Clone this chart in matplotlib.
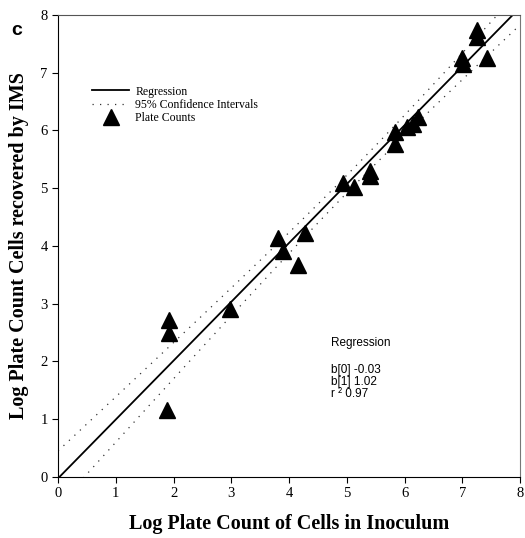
import numpy as np
import matplotlib.pyplot as plt

# plate counts (log units)
inoculum = [1.88, 1.92, 1.92, 2.98, 3.81, 3.90, 4.16, 4.28, 4.93, 5.13,
            5.40, 5.40, 5.84, 5.84, 6.04, 6.14, 6.24, 6.99, 7.02, 7.42,
            7.25, 7.25]
recovered = [1.15, 2.72, 2.49, 2.90, 4.13, 3.91, 3.66, 4.23, 5.09, 5.02,
             5.30, 5.21, 5.97, 5.77, 6.06, 6.12, 6.23, 7.25, 7.16, 7.25,
             7.74, 7.62]

# regression as printed on the chart
b0 = -0.03
b1 = 1.02
r2 = 0.97
t_crit = 2.08

serif = 'Liberation Serif'
sans = 'Liberation Sans'

x = np.array(inoculum)
y = np.array(recovered)
n = len(x)
resid = y - (b0 + b1 * x)
s = np.sqrt(np.sum(resid ** 2) / (n - 2))
sxx = np.sum((x - x.mean()) ** 2)

xs = np.linspace(0, 8, 200)
fit = b0 + b1 * xs
half = t_crit * s * np.sqrt(1 / n + (xs - x.mean()) ** 2 / sxx)

fig = plt.figure(figsize=(5.25, 5.38), dpi=100)
ax = fig.add_axes([0.1105, 0.114, 0.88, 0.858])

ax.plot(xs, fit, color='black', lw=1.3, label='Regression')
ax.plot(xs, fit + half, color='#333333', lw=0.9, ls=(0, (1, 5)),
        label='95% Confidence Intervals')
ax.plot(xs, fit - half, color='#333333', lw=0.9, ls=(0, (1, 5)))
ax.plot(x, y, ls='none', marker='^', ms=11, color='black', label='Plate Counts')

ax.set_xlim(0, 8)
ax.set_ylim(0, 8)
ax.set_xticks(range(9))
ax.set_yticks(range(9))
ax.tick_params(direction='out', length=4, width=0.8, labelsize=10.5)
for lab in ax.get_xticklabels() + ax.get_yticklabels():
    lab.set_fontfamily(serif)
for sp in ax.spines.values():
    sp.set_linewidth(0.8)
ax.spines['top'].set_color('#555555')
ax.spines['right'].set_color('#777777')

ax.set_xlabel('Log Plate Count of Cells in Inoculum', fontfamily=serif,
              fontweight='bold', fontsize=14.5, labelpad=10)
ax.set_ylabel('Log Plate Count Cells recovered by IMS', fontfamily=serif,
              fontweight='bold', fontsize=14.5, labelpad=8)

leg = ax.legend(loc='upper left', bbox_to_anchor=(0.06, 0.86), frameon=False,
                prop={'family': serif, 'size': 8.5}, handlelength=3.2,
                handletextpad=0.5, labelspacing=0.1, borderpad=0)

ax.text(0.59, 0.29, 'Regression', transform=ax.transAxes, fontfamily=sans,
        fontsize=8.5, va='center')
ax.text(0.59, 0.245, 'b[0] -0.03\nb[1] %.2f\nr ² %.2f' % (b1, r2),
        transform=ax.transAxes, fontfamily=sans, fontsize=8.5, va='top',
        linespacing=1.0)

fig.text(0.022, 0.935, 'c', fontfamily=sans, fontweight='bold', fontsize=14)

fig.savefig('out.png', dpi=100)
